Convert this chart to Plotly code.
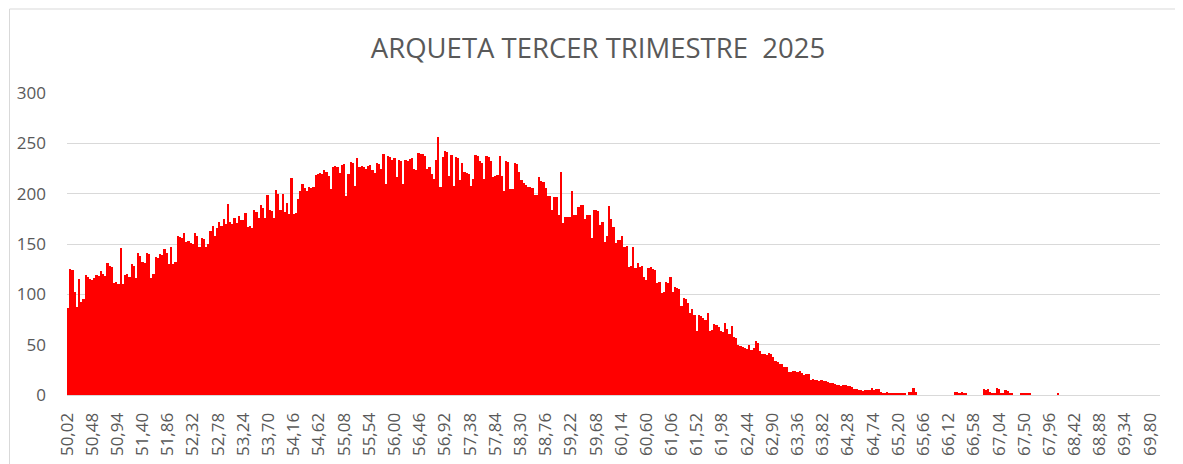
import plotly.graph_objects as go

# histogram classes (lower bound of first class and class width)
first_class = 50.02
class_width = 0.04

# counts per class
counts_50_54 = [
    86, 125, 124, 102, 87, 115, 92, 95, 119, 117,
    115, 114, 116, 119, 118, 123, 120, 118, 131, 128,
    127, 111, 112, 110, 146, 110, 119, 120, 117, 130,
    128, 116, 141, 138, 132, 131, 141, 140, 116, 120,
    137, 136, 140, 139, 145, 141, 130, 147, 130, 132,
    158, 157, 156, 161, 152, 153, 151, 150, 161, 158,
    147, 156, 155, 147, 150, 163, 168, 158, 166, 172,
    168, 175, 170, 190, 172, 170, 176, 171, 178, 174,
    174, 181, 167, 168, 166, 184, 182, 176, 189, 186,
    176, 199, 184, 183, 176, 204, 200, 184, 200, 182,
]
counts_54_58 = [
    191, 180, 216, 180, 181, 195, 203, 210, 206, 203,
    207, 206, 207, 219, 220, 221, 220, 224, 222, 218,
    205, 226, 227, 226, 221, 228, 229, 198, 220, 231,
    230, 208, 235, 226, 227, 226, 225, 227, 228, 224,
    221, 230, 229, 225, 239, 210, 237, 236, 233, 235,
    217, 233, 232, 210, 233, 232, 234, 235, 225, 224,
    240, 239, 239, 237, 225, 226, 220, 215, 233, 256,
    207, 236, 242, 241, 218, 238, 208, 236, 235, 214,
    230, 222, 221, 220, 208, 215, 238, 237, 232, 230,
    215, 237, 236, 232, 217, 218, 219, 237, 218, 203,
]
counts_58_62 = [
    232, 231, 205, 205, 230, 229, 222, 214, 211, 209,
    207, 207, 206, 199, 199, 217, 213, 212, 206, 198,
    198, 184, 197, 197, 179, 222, 171, 177, 177, 177,
    203, 179, 179, 187, 189, 189, 175, 179, 179, 156,
    184, 184, 183, 169, 172, 152, 158, 188, 175, 167,
    151, 154, 154, 158, 147, 148, 127, 128, 147, 126,
    131, 127, 128, 117, 114, 126, 127, 125, 124, 111,
    112, 101, 102, 112, 111, 117, 102, 107, 106, 105,
    88, 96, 95, 91, 81, 85, 79, 64, 79, 78,
    76, 75, 81, 64, 65, 71, 70, 68, 64, 63,
]
counts_62_66 = [
    72, 66, 61, 69, 58, 57, 50, 49, 48, 47,
    46, 50, 45, 47, 54, 52, 44, 41, 41, 40,
    42, 41, 38, 34, 33, 31, 31, 28, 28, 23,
    23, 24, 24, 23, 24, 22, 20, 21, 21, 15,
    16, 15, 15, 14, 15, 14, 14, 13, 12, 12,
    11, 10, 10, 9, 10, 10, 9, 9, 8, 6,
    6, 5, 5, 4, 5, 5, 5, 7, 5, 6,
    6, 3, 2, 2, 3, 2, 2, 1, 2, 1,
    1, 1, 1, 0, 3, 3, 7, 3, 0, 0,
    0, 0, 0, 0, 0, 0, 0, 0, 0, 0,
]
counts_66_70 = [
    0, 0, 0, 0, 0, 3, 3, 2, 3, 1,
    1, 0, 0, 0, 0, 0, 0, 0, 6, 5,
    6, 3, 1, 1, 7, 6, 1, 1, 5, 4,
    1, 1, 0, 0, 0, 1, 2, 1, 2, 1,
    0, 0, 0, 0, 0, 0, 0, 0, 0, 0,
    0, 0, 1, 0, 0, 0, 0, 0, 0, 0,
    0, 0, 0, 0, 0, 0, 0, 0, 0, 0,
    0, 0, 0, 0, 0, 0, 0, 0, 0, 0,
    0, 0, 0, 0, 0, 0, 0, 0, 0, 0,
    0, 0, 0, 0, 0, 0, 0, 0, 0, 0,
]

tick_labels = [
    "50,02", "50,48", "50,94", "51,40", "51,86", "52,32", "52,78", "53,24",
    "53,70", "54,16", "54,62", "55,08", "55,54", "56,00", "56,46", "56,92",
    "57,38", "57,84", "58,30", "58,76", "59,22", "59,68", "60,14", "60,60",
    "61,06", "61,52", "61,98", "62,44", "62,90", "63,36", "63,82", "64,28",
    "64,74", "65,20", "65,66", "66,12", "66,58", "67,04", "67,50", "67,96",
    "68,42", "68,88", "69,34", "69,80",
]
y_ticks = [0, 50, 100, 150, 200, 250, 300]

title_text = "ARQUETA TERCER TRIMESTRE\u00a0\u00a02025"

counts = counts_50_54 + counts_54_58 + counts_58_62 + counts_62_66 + counts_66_70
x_centers = [round(first_class + class_width * (i + 0.5), 4) for i in range(len(counts))]
tick_vals = [float(t.replace(",", ".")) for t in tick_labels]

# the page body has an 8px default margin: lay the figure out in page coordinates minus 8
OFF = 8
W, H = 1183 - OFF, 464 - OFF
L, T = 67 - OFF, 93 - OFF
pw, ph = 1093, 302
R, B = W - L - pw, H - T - ph

fig = go.Figure(
    go.Bar(
        x=x_centers,
        y=counts,
        width=class_width,
        marker=dict(color="#FF0000", line=dict(width=0)),
        hoverinfo="x+y",
    )
)

grey = "#595959"
fig.update_layout(
    width=W,
    height=H,
    margin=dict(l=L, r=R, t=T, b=B),
    paper_bgcolor="white",
    plot_bgcolor="white",
    bargap=0,
    showlegend=False,
    font=dict(family="Open Sans", color=grey),
    title=dict(
        text=title_text,
        xref="container",
        yref="container",
        x=(598 - OFF) / W,
        y=1 - (48 - OFF) / H,
        xanchor="center",
        yanchor="middle",
        font=dict(family="Open Sans", size=27.5, color=grey),
    ),
    xaxis=dict(
        range=[first_class, 69.98],
        tickmode="array",
        tickvals=tick_vals,
        ticktext=tick_labels,
        tickangle=-90,
        tickfont=dict(size=17, color=grey),
        showgrid=False,
        zeroline=False,
        showline=True,
        linecolor="#d9d9d9",
        linewidth=1,
        ticks="",
        automargin=False,
        ticklabelstandoff=10,
    ),
    yaxis=dict(
        range=[0, 300],
        tickmode="array",
        tickvals=y_ticks,
        tickfont=dict(size=17, color=grey),
        showgrid=True,
        gridcolor="#d9d9d9",
        gridwidth=1,
        zeroline=False,
        showline=False,
        ticks="",
        automargin=False,
        ticklabelstandoff=20,
    ),
    shapes=[
        dict(
            type="rect",
            xref="paper",
            yref="paper",
            x0=(OFF + 1.5 - 67) / pw,
            x1=(1200 - 67) / pw,
            y0=(395 - 480) / ph,
            y1=(395 - 9) / ph,
            line=dict(color="#d9d9d9", width=1),
            fillcolor="rgba(0,0,0,0)",
            layer="below",
        )
    ],
)

fig.write_html("out.html")
